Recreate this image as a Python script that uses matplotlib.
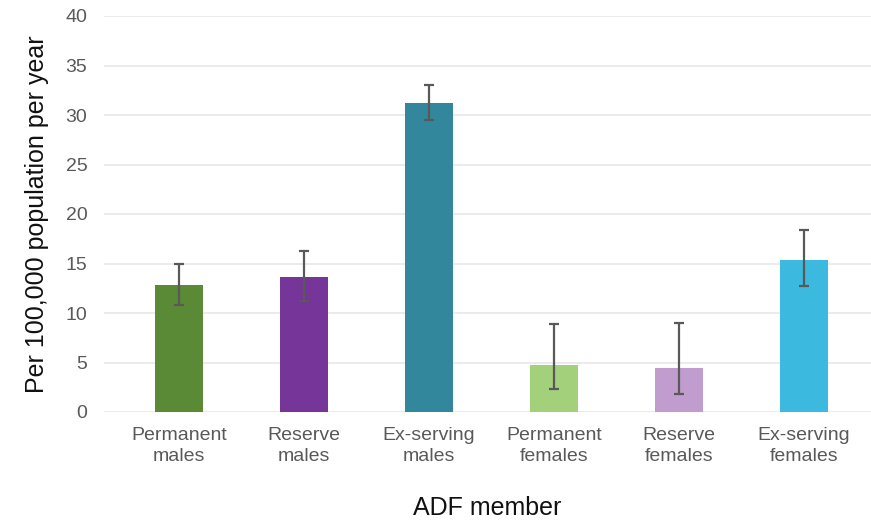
import numpy as np
import matplotlib.pyplot as plt

plt.rcParams['font.family'] = ['Liberation Sans', 'DejaVu Sans']

# data
categories = ["Permanent\nmales", "Reserve\nmales", "Ex-serving\nmales",
              "Permanent\nfemales", "Reserve\nfemales", "Ex-serving\nfemales"]
rates = [12.8, 13.6, 31.2, 4.75, 4.4, 15.4]
ci_low = [10.8, 11.2, 29.5, 2.3, 1.8, 12.7]
ci_high = [15.0, 16.3, 33.0, 8.9, 9.0, 18.4]
colors = ['#5b8a36', '#753599', '#32879c', '#a3d07b', '#c09ccf', '#3bb9de']

fig = plt.figure(figsize=(8.71, 5.22), dpi=100)
ax = fig.add_axes([104/871, 110/522, 767/871, 396/522])

X = np.arange(len(categories))
rates_arr = np.array(rates)
yerr = [rates_arr - np.array(ci_low), np.array(ci_high) - rates_arr]

ax.bar(X, rates, width=0.39, color=colors, zorder=3)
ax.errorbar(X, rates, yerr=yerr, fmt='none', ecolor='#595959',
            elinewidth=1.6, capsize=3.3, capthick=1.6, zorder=4)

ax.set_xlim(-0.6, 5.536)
ax.set_ylim(0, 40)
ax.set_yticks(range(0, 41, 5))
ax.set_xticks(X)
ax.set_xticklabels(categories, fontsize=14, color='#595959', linespacing=1.3)
ax.tick_params(axis='y', labelsize=14, labelcolor='#595959', length=0, pad=12)
ax.tick_params(axis='x', length=0, pad=11)
ax.grid(axis='y', color='#e8e8e8', linewidth=1.2, zorder=0)
for s in ax.spines.values():
    s.set_visible(False)

ax.set_ylabel("Per 100,000 population per year", fontsize=18, color='#111111', labelpad=12)
ax.set_xlabel("ADF member", fontsize=18, color='#111111', labelpad=22)

fig.savefig("out.png", dpi=100)
